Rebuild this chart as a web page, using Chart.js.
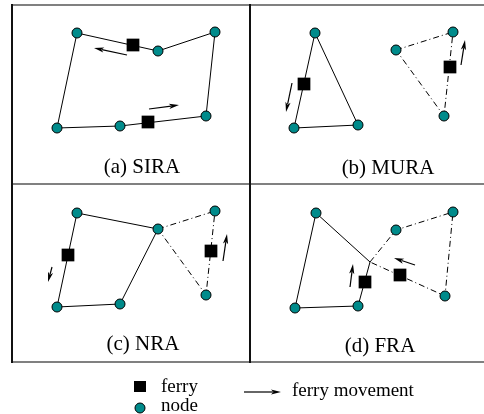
<!DOCTYPE html>
<html>
<head>
<meta charset="utf-8">
<script src="https://cdn.jsdelivr.net/npm/chart.js@4/dist/chart.umd.min.js"></script>
<style>
  html, body { margin: 0; padding: 0; background: #ffffff; }
  #wrap { width: 484px; height: 414px; position: relative; }
</style>
</head>
<body>
<div id="wrap"><canvas id="c"></canvas></div>
<script>
// ---- (a) SIRA: one ring through all nodes, two ferries ----
const siraNodes   = [[77,33],[158,51],[215,32],[206,116],[120,126],[57,128]];
const siraSolid   = [[57,128],[77,33],[158,51],[215,32],[206,116],[120,126],[57,128]];
const siraDashed  = [];
const siraFerries = [[133,45],[148,122]];
const siraArrows  = [[127,55,94,48],[149,109,179,105]];

// ---- (b) MURA: two disjoint routes ----
const muraNodes   = [[315,33],[294,128],[358,125],[396,50],[453,32],[444,116]];
const muraSolid   = [[315,33],[294,128],[358,125],[315,33]];
const muraDashed  = [[396,50],[453,32],[444,116],[396,50]];
const muraFerries = [[304,84],[450,67]];
const muraArrows  = [[292,83,286,112],[461,65,465,40]];

// ---- (c) NRA: two routes sharing a node ----
const nraNodes   = [[77,213],[158,229],[215,211],[206,295],[120,304],[57,307]];
const nraSolid   = [[77,213],[158,229],[120,304],[57,307],[77,213]];
const nraDashed  = [[158,229],[215,211],[206,295],[158,229]];
const nraFerries = [[68,255],[211,251]];
const nraArrows  = [[52,267,48,282],[223,261,227,234]];

// ---- (d) FRA: two routes meeting at a rendezvous point ----
const fraNodes   = [[316,213],[295,308],[358,306],[396,230],[453,212],[445,296]];
const fraSolid   = [[316,213],[295,308],[358,306],[370,262],[316,213]];
const fraDashed  = [[370,262],[396,230],[453,212],[445,296],[370,262]];
const fraFerries = [[365,282],[400,275]];
const fraArrows  = [[350,287,353,264],[415,265,394,258]];

// panel captions and their centres
const panelLabels = ['(a) SIRA', '(b) MURA', '(c) NRA', '(d) FRA'];
const labelCenters = [[142,167],[388,168],[143,344],[380,346]];

// legend entries
const legendFerry = [140,387];
const legendNode  = [140,408];
const legendArrow = [244,392,281,392];
const legendTexts = [['ferry',161,387],['node',161,406],['ferry movement',292,391]];

// panel frame lines: [x1,y1,x2,y2,colour,width]
const frameLines = [
  [12,5,484,5,'#808080',2],
  [12,184,484,184,'#808080',2],
  [12,362,484,362,'#808080',2],
  [12,4,12,363,'#111111',2],
  [250,4,250,363,'#111111',2]
];

const TEAL = '#008b8b';
const DASH_DOT = [6,3,1,3];

const pts = arr => arr.map(p => ({x: p[0], y: p[1]}));

const allNodes   = [].concat(siraNodes, muraNodes, nraNodes, fraNodes);
const allFerries = [].concat(siraFerries, muraFerries, nraFerries, fraFerries);
const allArrows  = [].concat(siraArrows, muraArrows, nraArrows, fraArrows);
const solidPaths  = [siraSolid, muraSolid, nraSolid, fraSolid];
const dashedPaths = [siraDashed, muraDashed, nraDashed, fraDashed].filter(a => a.length);

const datasets = [];
datasets.push({
  type: 'scatter', data: pts(allNodes), order: 0,
  pointStyle: 'circle', pointRadius: 5, pointBackgroundColor: TEAL,
  pointBorderColor: '#000000', pointBorderWidth: 1
});
datasets.push({
  type: 'scatter', data: pts(allFerries), order: 1,
  pointStyle: 'rect', pointRadius: 9, pointBackgroundColor: '#000000',
  pointBorderColor: '#000000', pointBorderWidth: 0
});
solidPaths.forEach(p => datasets.push({
  type: 'line', data: pts(p), order: 2, showLine: true, fill: false,
  borderColor: '#000000', borderWidth: 1, pointRadius: 0, tension: 0
}));
dashedPaths.forEach(p => datasets.push({
  type: 'line', data: pts(p), order: 2, showLine: true, fill: false,
  borderColor: '#000000', borderWidth: 1, borderDash: DASH_DOT, pointRadius: 0, tension: 0
}));

function drawArrow(ctx, xs, ys, a) {
  const x1 = xs.getPixelForValue(a[0]), y1 = ys.getPixelForValue(a[1]);
  const x2 = xs.getPixelForValue(a[2]), y2 = ys.getPixelForValue(a[3]);
  const ang = Math.atan2(y2 - y1, x2 - x1);
  const head = 10, half = 2.6;
  const bx = x2 - head * Math.cos(ang), by = y2 - head * Math.sin(ang);
  ctx.save();
  ctx.strokeStyle = '#000'; ctx.fillStyle = '#000'; ctx.lineWidth = 1.2;
  ctx.beginPath(); ctx.moveTo(x1, y1); ctx.lineTo(bx + 2 * Math.cos(ang), by + 2 * Math.sin(ang)); ctx.stroke();
  ctx.beginPath();
  ctx.moveTo(x2, y2);
  ctx.lineTo(bx - half * Math.sin(ang), by + half * Math.cos(ang));
  ctx.lineTo(bx + 2.5 * Math.cos(ang), by + 2.5 * Math.sin(ang));
  ctx.lineTo(bx + half * Math.sin(ang), by - half * Math.cos(ang));
  ctx.closePath(); ctx.fill();
  ctx.restore();
}

const decor = {
  id: 'decor',
  beforeDatasetsDraw(chart) {
    const ctx = chart.ctx, xs = chart.scales.x, ys = chart.scales.y;
    ctx.save();
    frameLines.forEach(f => {
      ctx.strokeStyle = f[4]; ctx.lineWidth = f[5];
      ctx.beginPath();
      ctx.moveTo(xs.getPixelForValue(f[0]), ys.getPixelForValue(f[1]));
      ctx.lineTo(xs.getPixelForValue(f[2]), ys.getPixelForValue(f[3]));
      ctx.stroke();
    });
    ctx.restore();
  },
  afterDatasetsDraw(chart) {
    const ctx = chart.ctx, xs = chart.scales.x, ys = chart.scales.y;
    allArrows.forEach(a => drawArrow(ctx, xs, ys, a));
    drawArrow(ctx, xs, ys, legendArrow);

    ctx.save();
    ctx.fillStyle = '#000';
    ctx.font = '21px "Liberation Serif", "Times New Roman", serif';
    ctx.textAlign = 'center'; ctx.textBaseline = 'middle';
    panelLabels.forEach((t, i) => {
      ctx.fillText(t, xs.getPixelForValue(labelCenters[i][0]), ys.getPixelForValue(labelCenters[i][1]));
    });

    // legend symbols
    const fx = xs.getPixelForValue(legendFerry[0]), fy = ys.getPixelForValue(legendFerry[1]);
    ctx.fillRect(fx - 6, fy - 6, 12, 11);
    const nx = xs.getPixelForValue(legendNode[0]), ny = ys.getPixelForValue(legendNode[1]);
    ctx.beginPath(); ctx.arc(nx, ny, 5, 0, Math.PI * 2);
    ctx.fillStyle = TEAL; ctx.fill();
    ctx.strokeStyle = '#000'; ctx.lineWidth = 1; ctx.stroke();

    ctx.fillStyle = '#000';
    ctx.font = '19px "Liberation Serif", "Times New Roman", serif';
    ctx.textAlign = 'left';
    legendTexts.forEach(t => ctx.fillText(t[0], xs.getPixelForValue(t[1]), ys.getPixelForValue(t[2])));
    ctx.restore();
  }
};

new Chart(document.getElementById('c'), {
  type: 'scatter',
  data: { datasets },
  options: {
    responsive: true,
    maintainAspectRatio: false,
    animation: false,
    layout: { padding: 0, autoPadding: false },
    plugins: { legend: { display: false }, tooltip: { enabled: false } },
    scales: {
      x: { type: 'linear', min: 0, max: 484, display: false },
      y: { type: 'linear', min: 0, max: 414, reverse: true, display: false }
    }
  },
  plugins: [decor]
});
</script>
</body>
</html>
